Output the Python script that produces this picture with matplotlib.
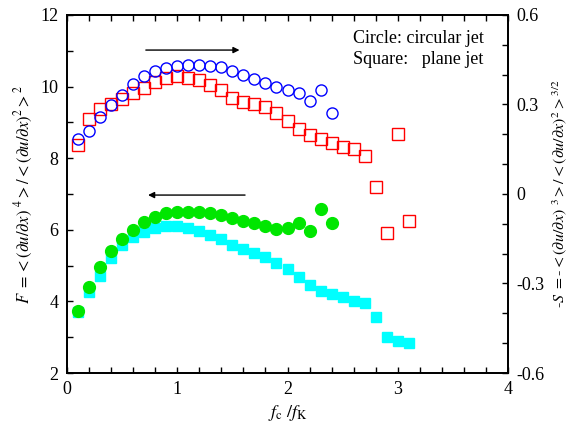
import numpy as np
import matplotlib
matplotlib.use("Agg")
import matplotlib.pyplot as plt
from matplotlib.ticker import MultipleLocator

plt.rcParams['font.family'] = ['Liberation Serif', 'DejaVu Serif']
plt.rcParams['mathtext.fontset'] = 'stix'
plt.rcParams['axes.unicode_minus'] = False

# f_c / f_K
x_circ = [0.1, 0.2, 0.3, 0.4, 0.5, 0.6, 0.7, 0.8, 0.9, 1.0, 1.1, 1.2,
          1.3, 1.4, 1.5, 1.6, 1.7, 1.8, 1.9, 2.0, 2.1, 2.2, 2.3, 2.4]
x_sq = [0.1, 0.2, 0.3, 0.4, 0.5, 0.6, 0.7, 0.8, 0.9, 1.0, 1.1, 1.2, 1.3,
        1.4, 1.5, 1.6, 1.7, 1.8, 1.9, 2.0, 2.1, 2.2, 2.3, 2.4, 2.5, 2.6,
        2.7, 2.8, 2.9, 3.0, 3.1]

# -S (right axis), open markers
s_circ = [0.184, 0.211, 0.259, 0.298, 0.332, 0.367, 0.394, 0.413, 0.422,
          0.430, 0.434, 0.434, 0.430, 0.424, 0.413, 0.400, 0.385, 0.372,
          0.358, 0.350, 0.340, 0.313, 0.349, 0.272]
s_sq = [0.163, 0.253, 0.284, 0.301, 0.318, 0.337, 0.356, 0.377, 0.390,
        0.394, 0.390, 0.382, 0.365, 0.347, 0.323, 0.310, 0.301, 0.290,
        0.270, 0.246, 0.218, 0.197, 0.184, 0.172, 0.158, 0.151, 0.128,
        0.022, -0.130, 0.202, -0.090]

# F (left axis), filled markers
f_circ = [3.74, 4.41, 4.95, 5.42, 5.73, 5.99, 6.23, 6.37, 6.48, 6.51,
          6.51, 6.49, 6.46, 6.40, 6.33, 6.25, 6.19, 6.11, 6.03, 6.05,
          6.18, 5.97, 6.59, 6.19]
f_sq = [3.71, 4.27, 4.72, 5.22, 5.58, 5.79, 5.93, 6.06, 6.11, 6.11, 6.06,
        5.97, 5.85, 5.73, 5.57, 5.46, 5.34, 5.23, 5.06, 4.90, 4.69, 4.47,
        4.30, 4.21, 4.11, 4.01, 3.95, 3.57, 3.01, 2.90, 2.83]

fig = plt.figure(figsize=(5.75, 4.38), dpi=100)
ax = fig.add_axes([0.1165, 0.1484, 0.767, 0.8174])
ax2 = ax.twinx()

ax.plot(x_sq, f_sq, 's', color='#00ffff', ms=7.8, mec='#00ffff', zorder=3)
ax.plot(x_circ, f_circ, 'o', color='#00e600', ms=8.5, mec='#00e600', zorder=4)
ax2.plot(x_sq, s_sq, 's', mfc='none', mec='#ff0000', ms=8, mew=1.0)
ax2.plot(x_circ, s_circ, 'o', mfc='none', mec='#0000ff', ms=8, mew=1.0)

ax.set_xlim(0, 4)
ax.set_ylim(2, 12)
ax2.set_ylim(-0.6, 0.6)

ax.xaxis.set_major_locator(MultipleLocator(1))
ax.xaxis.set_minor_locator(MultipleLocator(0.2))
ax.yaxis.set_major_locator(MultipleLocator(2))
ax.yaxis.set_minor_locator(MultipleLocator(1))
ax2.yaxis.set_minor_locator(MultipleLocator(0.1))
ax2.set_yticks([-0.6, -0.3, 0, 0.3, 0.6])
ax2.set_yticklabels(['-0.6', '-0.3', '0', '0.3', '0.6'])

ax.tick_params(which='both', direction='in', top=True, right=False,
               labelsize=13, width=1.0, pad=6, length=4)
ax2.tick_params(which='both', direction='in', labelsize=13, width=1.0,
                pad=6, length=4)
for a in (ax, ax2):
    for sp in a.spines.values():
        sp.set_linewidth(1.3)

ax.set_xlabel(r'$f_\mathrm{c}\ /f_\mathrm{K}$', fontsize=13, labelpad=3)
ax.set_ylabel(r'$F\ {=}{<}(\partial u/\partial x)\ ^4{>}/{<}(\partial u/\partial x)^2{>}^2$',
              fontsize=12, labelpad=4)
ax2.set_ylabel(r'-$S\ {=}$-${<}(\partial u/\partial x)\ ^3{>}/{<}(\partial u/\partial x)^2{>}^{3/2}$',
               fontsize=11.5, rotation=90, labelpad=4)

ax.annotate('', xy=(1.59, 11.02), xytext=(0.69, 11.02),
            arrowprops=dict(arrowstyle='-|>', color='black', lw=1.0,
                            mutation_scale=9))
ax.annotate('', xy=(0.71, 6.97), xytext=(1.64, 6.97),
            arrowprops=dict(arrowstyle='-|>', color='black', lw=1.0,
                            mutation_scale=9))

ax.text(0.649, 0.935, 'Circle: circular jet', transform=ax.transAxes,
        fontsize=13, va='center')
ax.text(0.649, 0.875, 'Square:   plane jet', transform=ax.transAxes,
        fontsize=13, va='center')

fig.savefig('out.png', dpi=100)
